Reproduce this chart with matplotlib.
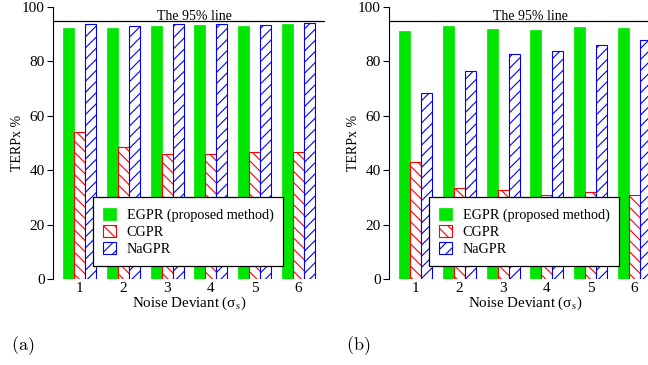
import numpy as np
import matplotlib
matplotlib.use('Agg')
from matplotlib import pyplot as plt

plt.rcParams['font.family'] = ['Liberation Serif', 'DejaVu Serif']
plt.rcParams['mathtext.fontset'] = 'stix'
plt.rcParams['hatch.linewidth'] = 0.8

deviants = [1, 2, 3, 4, 5, 6]
methods = ['EGPR (proposed method)', 'CGPR', 'NaGPR']

# panel (a)
egpr_a = [92.3, 92.3, 93.0, 93.5, 93.0, 93.7]
cgpr_a = [54.1, 48.6, 46.1, 46.1, 46.8, 46.7]
nagpr_a = [93.7, 93.0, 93.9, 93.7, 93.4, 94.1]

# panel (b)
egpr_b = [91.2, 92.9, 91.9, 91.5, 92.5, 92.3]
cgpr_b = [42.9, 33.3, 32.8, 31.0, 32.1, 30.7]
nagpr_b = [68.2, 76.5, 82.7, 84.0, 86.0, 87.8]

line_95 = 95

W, H = 648, 365
fig = plt.figure(figsize=(W / 100, H / 100), dpi=100)


def draw_panel(ax, egpr, cgpr, nagpr):
    x = np.array(deviants, dtype=float)
    w = 0.25
    ax.bar(x - w, egpr, w, color='#00e600', edgecolor='#00e600', linewidth=0.5, label=methods[0])
    ax.bar(x, cgpr, w, color='white', edgecolor='red', hatch='\\\\\\', linewidth=0.8, label=methods[1])
    ax.bar(x + w, nagpr, w, color='white', edgecolor='blue', hatch='///', linewidth=0.8, label=methods[2])
    ax.axhline(line_95, color='black', linewidth=0.9)
    ax.text(3.63, line_95 + 0.2, 'The 95% line', ha='center', va='baseline', fontsize=10)
    ax.set_xlim(0.4, 6.6)
    ax.set_ylim(0, 100)
    ax.set_yticks([0, 20, 40, 60, 80, 100])
    ax.set_xticks(deviants)
    for s in ['top', 'right', 'bottom']:
        ax.spines[s].set_visible(False)
    ax.spines['left'].set_linewidth(0.8)
    ax.tick_params(axis='x', length=0, labelsize=11, pad=2)
    ax.tick_params(axis='y', direction='out', length=4, width=0.8, labelsize=11, pad=2)
    ax.set_ylabel('TERPx %', fontsize=10)
    ax.yaxis.set_label_coords(-0.105, 0.5)
    ax.set_xlabel('Noise Deviant (σ$_{\\mathrm{s}}$)', fontsize=10.8, labelpad=0)
    leg = ax.legend(loc='lower left', bbox_to_anchor=(0.146, 0.047, 0.70, 0.255), mode='expand',
                    fontsize=10.2, frameon=True, fancybox=False, edgecolor='black',
                    handlelength=0.9, handleheight=0.9, borderpad=0.75, labelspacing=0.22,
                    handletextpad=0.75, borderaxespad=0)
    leg.get_frame().set_linewidth(0.9)
    leg.get_frame().set_alpha(1)


ax1 = fig.add_axes([53 / W, 1 - 279 / H, 272 / W, 272 / H])
draw_panel(ax1, egpr_a, cgpr_a, nagpr_a)

ax2 = fig.add_axes([389 / W, 1 - 279 / H, 272 / W, 272 / H])
draw_panel(ax2, egpr_b, cgpr_b, nagpr_b)

fig.text(11 / W, 1 - 346 / H, r'$\mathrm{(a)}$', fontsize=13, va='center', ha='left',
         math_fontfamily='cm')
fig.text(346 / W, 1 - 346 / H, r'$\mathrm{(b)}$', fontsize=13, va='center', ha='left',
         math_fontfamily='cm')

fig.savefig('out.png', dpi=100)
